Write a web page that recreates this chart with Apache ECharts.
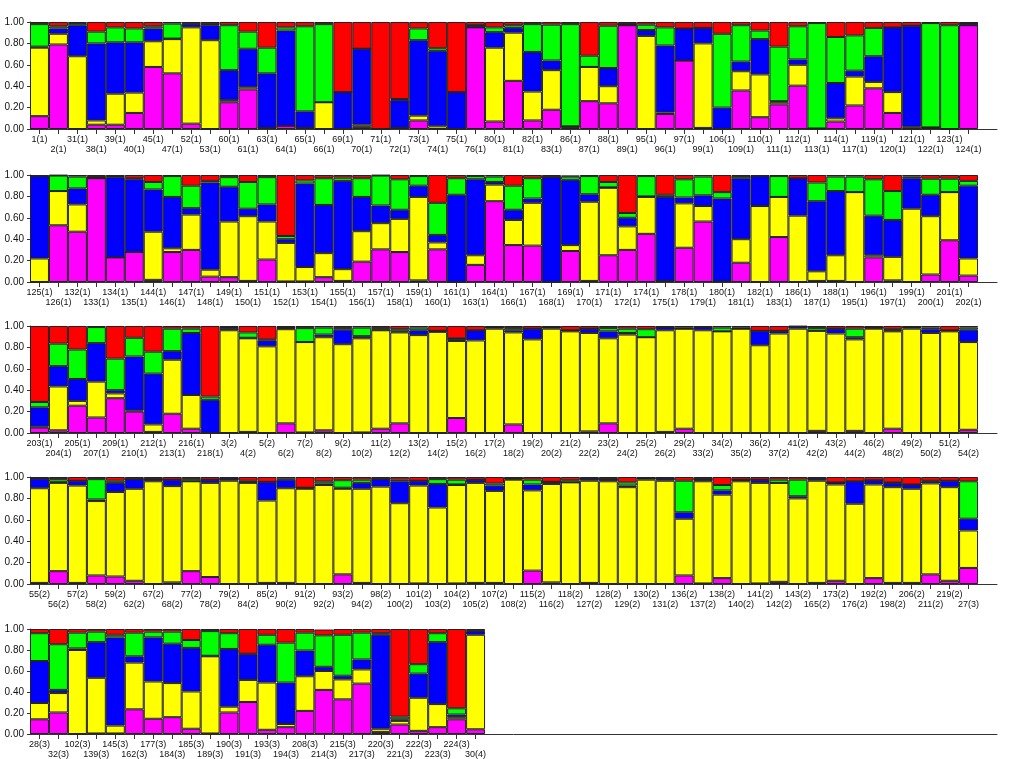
<!DOCTYPE html>
<html>
<head>
<meta charset="utf-8">
<script src="https://cdn.jsdelivr.net/npm/echarts@6/dist/echarts.min.js"></script>
<style>
html,body{margin:0;padding:0;background:#fff;}
#chart{width:1024px;height:759px;}
</style>
</head>
<body>
<div id="chart"></div>
<script>
// ---- Row 1 ----
var labels1 = ['1(1)','2(1)','31(1)','38(1)','39(1)','40(1)','45(1)','47(1)','52(1)','53(1)','60(1)','61(1)','63(1)','64(1)','65(1)','66(1)','69(1)','70(1)','71(1)','72(1)','73(1)','74(1)','75(1)','76(1)','80(1)','81(1)','82(1)','83(1)','86(1)','87(1)','88(1)','89(1)','95(1)','96(1)','97(1)','99(1)','106(1)','109(1)','110(1)','111(1)','112(1)','113(1)','114(1)','117(1)','119(1)','120(1)','121(1)','122(1)','123(1)','124(1)'];
var mag1 = [.12,.79,0,.04,.04,.15,.58,.52,.05,0,.25,.37,.01,.03,.01,0,0,.02,0,.01,.08,0,0,.95,.07,.45,.08,.18,.01,.26,.24,.97,0,.14,.64,.01,0,.36,.11,.23,.405,.005,.07,.22,.38,.15,0,.01,0,.97];
var yel1 = [.64,.10,.68,.04,.29,.19,.24,.32,.90,.83,.02,.02,0,0,0,.25,0,.02,0,0,.045,.025,0,0,.69,.45,.27,.37,.015,.32,.16,0,.87,.015,0,.79,0,.18,.40,.02,.195,0,.03,.27,.06,.195,.02,0,0,0];
var blu1 = [.01,.05,.29,.72,.48,.47,.12,.005,.03,.14,.28,.36,.51,.89,.155,0,.345,.71,0,.26,.705,.705,.345,.02,.145,.045,.37,.09,0,0,.17,.01,.055,.625,.30,.145,.20,.09,.33,.01,.05,0,.33,.055,.24,.605,.945,.005,0,.02];
var grn1 = [.21,.02,.02,.11,.14,.13,.02,.14,.005,.01,.42,.16,.24,.03,.795,.73,0,0,0,.01,.11,.025,0,0,.045,.025,.26,.335,.955,.105,.395,0,.05,.17,0,0,.69,.34,.08,.51,.31,.985,.43,.33,.265,0,0,.975,.97,0];
var red1 = [.02,.04,.01,.09,.05,.06,.04,.015,.015,.02,.03,.09,.24,.05,.04,.02,.655,.25,1,.72,.06,.245,.655,.03,.05,.03,.02,.025,.02,.315,.035,.02,.025,.05,.06,.055,.11,.03,.08,.23,.04,.01,.14,.125,.055,.05,.035,.01,.03,.01];

// ---- Row 2 ----
var labels2 = ['125(1)','126(1)','132(1)','133(1)','134(1)','135(1)','144(1)','146(1)','147(1)','148(1)','149(1)','150(1)','151(1)','152(1)','153(1)','154(1)','155(1)','156(1)','157(1)','158(1)','159(1)','160(1)','161(1)','163(1)','164(1)','166(1)','167(1)','168(1)','169(1)','170(1)','171(1)','172(1)','174(1)','175(1)','178(1)','179(1)','180(1)','181(1)','182(1)','183(1)','186(1)','187(1)','188(1)','195(1)','196(1)','197(1)','199(1)','200(1)','201(1)','202(1)'];
var mag2 = [0,.53,.47,.97,.23,.28,.02,.28,.30,.05,.045,.01,.21,.005,.005,.045,.01,.19,.305,.28,.015,.305,0,.16,.755,.345,.34,0,.29,.01,.25,.30,.45,.01,.32,.565,.005,.18,0,.42,0,.01,.01,0,.23,.015,0,.07,.39,.06];
var yel2 = [.22,.32,.255,0,0,0,.45,.035,.33,.065,.52,.605,.355,.36,.135,.225,.11,.285,.245,.31,.78,.065,0,.09,.155,.235,.40,0,.055,.74,.63,.22,.345,0,.415,.145,0,.22,.71,.375,.62,.09,.24,.84,.02,.22,.685,.545,.45,.16];
var blu2 = [.77,0,.15,.01,.75,.68,.395,.48,.06,.815,.325,.07,.16,.035,.78,.45,.825,.32,.165,.085,.105,.07,.815,.71,.025,.095,.04,.98,.61,.07,.005,.08,.005,.785,.055,.10,.775,.57,.28,0,.35,.655,.60,0,.37,.345,.285,.20,0,.68];
var grn2 = [0,.145,.11,0,.01,.01,.07,.195,.21,.015,.09,.25,.255,.03,.03,.25,.03,.175,.28,.285,.09,.30,.155,.03,.05,.225,.19,0,.03,.17,.05,.045,.19,.02,.17,.175,.06,.02,0,.195,0,.175,.135,.145,.34,.27,.015,.15,.125,.045];
var red2 = [.01,.005,.015,.02,.01,.03,.065,.01,.10,.055,.02,.065,.02,.57,.05,.03,.025,.03,.005,.04,.01,.26,.03,.01,.015,.10,.03,.02,.01,.01,.065,.355,.01,.185,.04,.015,.16,.01,.01,.01,.03,.07,.015,.015,.04,.15,.015,.035,.035,.055];

// ---- Row 3 ----
var labels3 = ['203(1)','204(1)','205(1)','207(1)','209(1)','210(1)','212(1)','213(1)','216(1)','218(1)','3(2)','4(2)','5(2)','6(2)','7(2)','8(2)','9(2)','10(2)','11(2)','12(2)','13(2)','14(2)','15(2)','16(2)','17(2)','18(2)','19(2)','20(2)','21(2)','22(2)','23(2)','24(2)','25(2)','26(2)','29(2)','33(2)','34(2)','35(2)','36(2)','37(2)','41(2)','42(2)','43(2)','44(2)','46(2)','48(2)','49(2)','50(2)','51(2)','54(2)'];
var mag3 = [.05,.025,.255,.145,.325,.20,.01,.18,.04,0,0,.01,0,.09,.005,.025,0,.005,.04,.09,0,0,.14,0,0,.08,0,0,0,.015,.09,0,0,.01,.04,0,0,0,0,0,0,.02,0,.02,0,.04,0,0,0,.03];
var yel3 = [.01,.41,.045,.335,.045,.01,.07,.505,.315,0,.96,.875,.81,.88,.845,.87,.83,.88,.92,.85,.915,.945,.72,.865,.975,.86,.875,.975,.95,.92,.795,.92,.895,.95,.935,.96,.95,.975,.82,.93,.975,.935,.93,.855,.975,.91,.975,.935,.95,.82];
var blu3 = [.18,.19,.205,.36,.03,.505,.475,.08,.58,.31,.02,.005,.055,.01,0,.025,.135,.02,.005,.01,.045,.01,.02,.095,.015,.02,.10,.015,.01,.04,.065,.015,0,.03,0,.03,0,0,.135,.025,.02,0,.045,.02,.01,.01,.015,.035,.01,.115];
var grn3 = [.05,.21,.275,.15,.295,.175,.205,.21,.04,.03,.01,.05,.01,.01,.13,.065,.015,.08,.015,.02,.025,0,.005,0,0,.02,0,0,0,0,.03,.04,.075,0,.01,0,.035,.01,0,0,0,.025,0,.08,0,.01,0,.015,0,.02];
var red3 = [.71,.165,.22,.01,.305,.11,.24,.025,.025,.66,.01,.06,.125,.01,.02,.015,.02,.015,.02,.03,.015,.045,.115,.04,.01,.02,.025,.01,.04,.025,.02,.025,.03,.01,.015,.01,.015,.015,.045,.045,.005,.02,.025,.025,.015,.03,.01,.015,.04,.015];

// ---- Row 4 ----
var labels4 = ['55(2)','56(2)','57(2)','58(2)','59(2)','62(2)','67(2)','68(2)','77(2)','78(2)','79(2)','84(2)','85(2)','90(2)','91(2)','92(2)','93(2)','94(2)','98(2)','100(2)','101(2)','103(2)','104(2)','105(2)','107(2)','108(2)','115(2)','116(2)','118(2)','127(2)','128(2)','129(2)','130(2)','131(2)','136(2)','137(2)','138(2)','140(2)','141(2)','142(2)','143(2)','165(2)','173(2)','176(2)','192(2)','198(2)','206(2)','211(2)','219(2)','27(3)'];
var mag4 = [.01,.12,.01,.08,.07,.03,0,.015,.12,.065,0,0,.01,.01,0,0,.09,.01,0,0,.005,0,.005,.01,.01,0,.125,.015,0,.01,0,0,0,0,.08,.005,.055,0,.005,.02,0,.01,.03,0,.055,.01,.01,.09,.03,.15];
var yel4 = [.885,.825,.91,.695,.79,.86,.96,.90,.84,.88,.965,.945,.77,.885,.89,.925,.80,.88,.91,.755,.915,.715,.92,.935,.86,.975,.75,.92,.95,.955,.96,.905,.975,.965,.53,.955,.78,.96,.94,.925,.80,.955,.90,.75,.875,.895,.88,.85,.875,.35];
var blu4 = [.09,.01,.045,.015,.085,.09,.02,.06,0,.03,.02,.01,.175,.08,.01,.015,.01,.055,.07,.205,.045,.22,.005,.03,.05,.01,.055,.02,0,.02,.02,.015,.015,.02,.06,.02,.04,.015,.03,0,.02,.02,.02,.21,.04,.04,.04,.02,.06,.11];
var grn4 = [0,.025,0,.19,.02,0,0,0,.02,0,0,.01,0,.01,0,.02,.07,.03,0,.015,0,.045,.045,0,.02,0,.045,0,.02,0,0,.03,0,0,.295,0,.05,0,0,.03,.155,0,0,0,0,.005,0,.005,0,.35];
var red4 = [.015,.02,.035,.02,.035,.02,.02,.025,.02,.025,.015,.035,.045,.015,.10,.04,.03,.025,.02,.025,.035,.02,.025,.025,.06,.015,.025,.045,.03,.015,.02,.05,.01,.015,.035,.02,.075,.025,.025,.025,.025,.015,.05,.04,.03,.05,.07,.035,.035,.04];

// ---- Row 5 ----
var labels5 = ['28(3)','32(3)','102(3)','139(3)','145(3)','162(3)','177(3)','184(3)','185(3)','189(3)','190(3)','191(3)','193(3)','194(3)','208(3)','214(3)','215(3)','217(3)','220(3)','221(3)','222(3)','223(3)','224(3)','30(4)'];
var mag5 = [.14,.205,0,.005,.005,.235,.145,.16,.05,.005,.205,.305,.04,.065,.22,.42,.33,.48,.02,.09,.03,.065,.14,.045];
var yel5 = [.155,.185,.80,.53,.075,.445,.355,.325,.355,.735,.055,.21,.45,.03,.33,.18,.19,.135,.03,.035,.315,.22,.02,.90];
var blu5 = [.40,.03,.015,.34,.84,.06,.42,.375,.415,.005,.55,.245,.36,.395,.245,.04,.035,.095,.895,.015,.23,.59,.025,.035];
var grn5 = [.265,.435,.15,.10,.025,.225,.055,.115,.075,.235,.15,.005,.095,.38,.17,.30,.39,.255,.015,.025,.09,.085,.06,.005];
var red5 = [.04,.145,.035,.025,.055,.035,.025,.025,.105,.02,.04,.235,.055,.13,.035,.055,.055,.035,.04,.835,.335,.04,.755,.015];

var rows = [
  {labels: labels1, m: mag1, y: yel1, b: blu1, g: grn1, r: red1},
  {labels: labels2, m: mag2, y: yel2, b: blu2, g: grn2, r: red2},
  {labels: labels3, m: mag3, y: yel3, b: blu3, g: grn3, r: red3},
  {labels: labels4, m: mag4, y: yel4, b: blu4, g: grn4, r: red4},
  {labels: labels5, m: mag5, y: yel5, b: blu5, g: grn5, r: red5}
];
var rowTops = [22, 175, 326, 477, 629];
var SLOTS = 51;
var FONT = 'Liberation Sans, Arial, sans-serif';
var segColors = {m:'#FF00FF', y:'#FFFF00', b:'#0000FF', g:'#00FF00', r:'#FF0000'};
var order = ['m','y','b','g','r'];

var grids = [], xAxes = [], yAxes = [], series = [];
rows.forEach(function(row, i){
  var n = row.labels.length;
  var cats = row.labels.slice();
  while (cats.length < SLOTS) cats.push('');
  grids.push({left: 30, width: 967, top: rowTops[i], height: 107, containLabel: false});
  xAxes.push({
    type: 'category', gridIndex: i, data: cats,
    axisLine: {show: true, lineStyle: {color: '#333', width: 1}},
    axisTick: {show: true, alignWithLabel: true, length: 5, lineStyle: {color: '#333'},
      interval: (function(nn){ return function(idx){ return idx < nn; }; })(n)},
    axisLabel: {interval: 0, margin: 6, fontSize: 9, lineHeight: 9.5, color: '#111', fontFamily: FONT,
      formatter: function(v, idx){ return v === '' ? '' : (idx % 2 ? '\n' + v : v); }},
    splitLine: {show: false}
  });
  yAxes.push({
    type: 'value', gridIndex: i, min: 0, max: 1, interval: 0.2,
    axisLine: {show: true, lineStyle: {color: '#333', width: 1}},
    axisTick: {show: true, length: 3, lineStyle: {color: '#333'}},
    axisLabel: {margin: 6, fontSize: 10, color: '#111', fontFamily: FONT,
      formatter: function(v){ return v.toFixed(2); }},
    splitLine: {show: false}
  });
  order.forEach(function(k){
    series.push({
      type: 'bar', xAxisIndex: i, yAxisIndex: i, stack: 'row' + i,
      data: row[k], barWidth: '100%', barGap: '0%', barCategoryGap: '0%',
      silent: true,
      itemStyle: {color: segColors[k], borderColor: '#222', borderWidth: 1}
    });
  });
});

var chart = echarts.init(document.getElementById('chart'), null, {renderer: 'canvas'});
chart.setOption({
  animation: false,
  backgroundColor: '#fff',
  grid: grids, xAxis: xAxes, yAxis: yAxes, series: series
});
</script>
</body>
</html>
